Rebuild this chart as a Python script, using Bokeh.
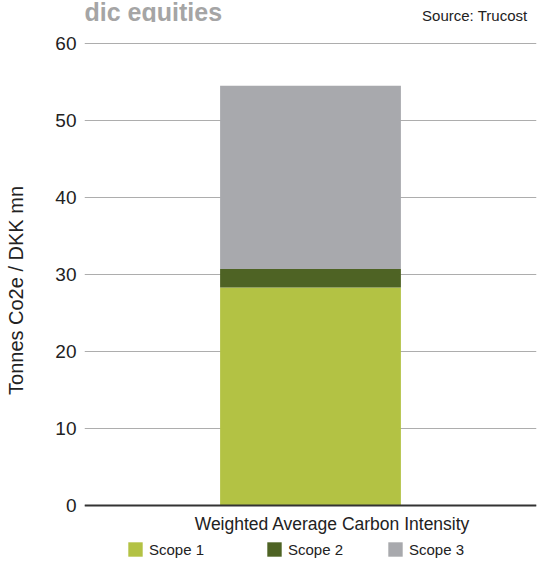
from bokeh.plotting import figure
from bokeh.models import Range1d, FactorRange, Legend, LegendItem, FixedTicker, Label, Span
from bokeh.layouts import column
from bokeh.embed import file_html
from bokeh.resources import INLINE

# ---- data ----
categories = ["Weighted Average Carbon Intensity"]
scopes = ["Scope 1", "Scope 2", "Scope 3"]
scope1 = [28.3]
scope2 = [2.4]
scope3 = [23.8]
y_ticks = [0, 10, 20, 30, 40, 50, 60]
colors = ["#b3c244", "#4e6324", "#a8a9ad"]

W = 547
HEAD_H = 22
MAIN_H = 536

# ---- header strip (cut-off heading + source) ----
head = figure(width=W, height=HEAD_H, x_range=Range1d(0, W), y_range=Range1d(0, HEAD_H),
              output_backend="svg", toolbar_location=None, title=None,
              min_border_left=0, min_border_right=0, min_border_top=0, min_border_bottom=0)
head.axis.visible = False
head.grid.visible = False
head.outline_line_color = None
head.add_layout(Label(x=0, y=HEAD_H - 11, text="dic equities", text_align="left",
                      text_baseline="alphabetic", text_font="Liberation Sans",
                      text_font_size="25px", text_font_style="bold", text_color="#a5a5a5"))
head.add_layout(Label(x=536, y=HEAD_H - 15, text="Source: Trucost", text_align="right",
                      text_baseline="middle", text_font="Liberation Sans",
                      text_font_size="15px", text_color="#222222"))

# ---- main chart ----
px_per_unit = 462 / 60
y_top = 60 + 21 / px_per_unit
y_bottom = -(MAIN_H - 483) / px_per_unit

p = figure(width=W, height=MAIN_H, x_range=FactorRange(*categories, range_padding=0),
           y_range=Range1d(y_bottom, y_top), output_backend="svg", toolbar_location=None,
           title=None,
           min_border_left=84, min_border_right=11, min_border_top=0, min_border_bottom=0)
p.outline_line_color = None
p.background_fill_color = "white"

data = {"cat": categories, "Scope 1": scope1, "Scope 2": scope2, "Scope 3": scope3}
rs = p.vbar_stack(scopes, x="cat", width=0.4, color=colors, line_color=None, source=data)

p.xaxis.visible = False
p.xgrid.grid_line_color = None

p.yaxis.ticker = FixedTicker(ticks=y_ticks)
p.yaxis.axis_line_color = None
p.yaxis.major_tick_line_color = None
p.yaxis.major_tick_out = 0
p.yaxis.major_tick_in = 0
p.yaxis.minor_tick_line_color = None
p.yaxis.major_label_standoff = 8
p.yaxis.major_label_text_font = "Liberation Sans"
p.yaxis.major_label_text_font_size = "19px"
p.yaxis.major_label_text_color = "#222222"
p.yaxis.axis_label = "Tonnes Co2e / DKK mn"
p.yaxis.axis_label_text_font = "Liberation Sans"
p.yaxis.axis_label_text_font_size = "20px"
p.yaxis.axis_label_text_font_style = "normal"
p.yaxis.axis_label_text_color = "#222222"
p.yaxis.axis_label_standoff = 25

p.ygrid.grid_line_color = "#adadad"
p.ygrid.grid_line_width = 1

# zero baseline
p.add_layout(Span(location=0, dimension="width", line_color="#333333", line_width=2))

# category label
p.add_layout(Label(x=0.5, y=0, x_offset=22, y_offset=-18, text=categories[0],
                   text_align="center", text_baseline="middle",
                   text_font="Liberation Sans", text_font_size="17.5px", text_color="#222222"))

# legend (three single-item legends placed in a row)
legend_x = [42, 181, 302]
for r, name, lx in zip(rs, scopes, legend_x):
    lg = Legend(items=[LegendItem(label=name, renderers=[r])], location=(lx, 0),
                orientation="horizontal", margin=0, padding=0, spacing=0,
                border_line_alpha=0, background_fill_alpha=0,
                glyph_width=18, glyph_height=18, label_height=18, label_standoff=5,
                label_text_font="Liberation Sans", label_text_font_size="15px",
                label_text_color="#222222")
    p.add_layout(lg, "center")

layout = column(head, p, spacing=0)
open("out.html", "w").write(file_html(layout, INLINE))
